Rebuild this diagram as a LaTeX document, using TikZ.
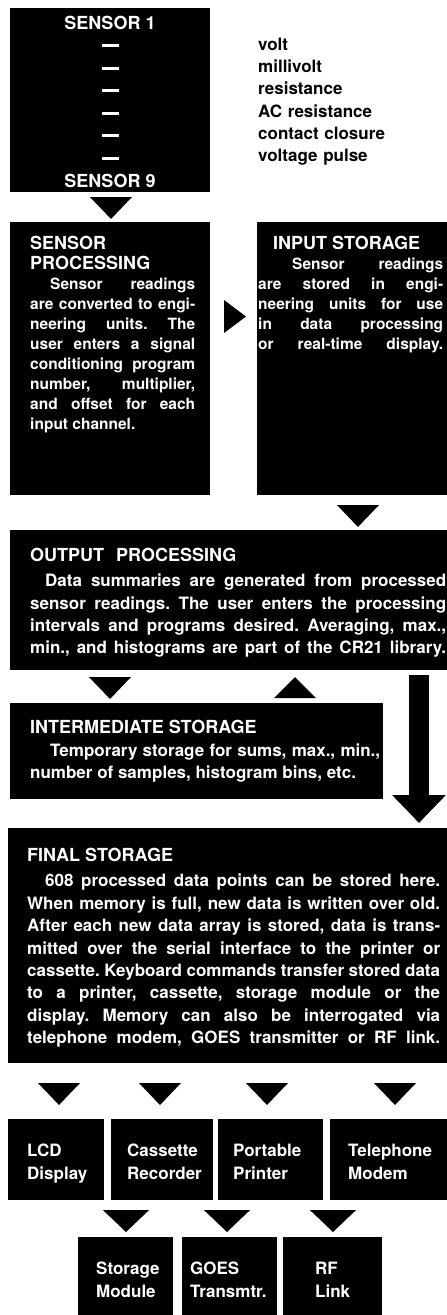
\documentclass[tikz,border=0pt]{standalone}
\usepackage{fontspec}
\setmainfont{TeX Gyre Heros}
\usetikzlibrary{arrows.meta}
\frenchspacing

\tikzset{
    blk/.style={fill=black, inner sep=0pt, anchor=north west},
    head/.style={text=white, inner sep=0pt, anchor=base west, font=\bfseries\fontsize{18}{20}\selectfont},
    body/.style={text=white, inner sep=0pt, anchor=north west, align=justify, font=\bfseries\fontsize{17}{22.3}\selectfont},
    bodys/.style={body, font=\bfseries\fontsize{15.5}{20}\selectfont},
    sline/.style={fill=white, inner sep=0pt, minimum width=17pt, minimum height=2.5pt},
    kinds/.style={inner sep=0pt, anchor=north west, align=left, font=\bfseries\fontsize{17}{22.2}\selectfont},
    lbl/.style={text=white, inner sep=0pt, anchor=north west, align=left, font=\bfseries\fontsize{17}{23}\selectfont},
    bigarr/.style={line width=20pt, -{Triangle[length=28pt, width=52pt]}},
    dtri/.pic={\fill (-21,0) -- (21,0) -- (0,22) -- cycle;},
    utri/.pic={\fill (-21,0) -- (21,0) -- (0,-21) -- cycle;},
    rtri/.pic={\fill (0,-16.5) -- (0,16.5) -- (22,0) -- cycle;}
}

\begin{document}
\begin{tikzpicture}[x=1pt, y=-1pt]
    \useasboundingbox (0,0) rectangle (447,1315);
    \fill[white] (0,0) rectangle (447,1315);

    % sensors
    \node[blk, minimum width=200pt, minimum height=184pt] (sensors) at (10,8) {};
    \node[head, anchor=base] (s1) at (110,29.5) {SENSOR 1};
    \foreach \i/\y in {1/45.3, 2/68.3, 3/90.3, 4/113.3, 5/135.7, 6/158.3}
        \node[sline] (d\i) at (110.8,\y) {};
    \node[head, anchor=base] (s9) at (110,187.5) {SENSOR 9};
    \node[kinds, text width=170pt] (types) at (258,38) {volt\\millivolt\\resistance\\AC resistance\\contact closure\\voltage pulse};
    \pic at (111,197) {dtri};

    % sensor processing and input storage
    \node[blk, minimum width=200pt, minimum height=273pt] (sensproc) at (10,222) {};
    \node[head] (sph1) at (30,249.5) {SENSOR};
    \node[head] (sph2) at (30,269.5) {PROCESSING};
    \node[bodys, text width=165pt] (spb) at (30,277.4) {\noindent\kern20pt Sensor readings\linebreak are converted to engi-\linebreak neering units. The\linebreak user enters a signal\linebreak conditioning program\linebreak number, multiplier,\linebreak and offset for each\linebreak input channel.};
    \pic at (224,316.5) {rtri};
    \node[blk, minimum width=195pt, minimum height=273pt] (instore) at (257,222) {};
    \node[head] (ish) at (273,249.5) {INPUT STORAGE};
    \node[bodys, text width=185pt] (isb) at (258,257.4) {\noindent\kern34pt Sensor readings\linebreak are stored in engi-\linebreak neering units for use\linebreak in data processing\linebreak or real-time display.\linebreak};
    \pic at (358,505) {dtri};

    % output processing
    \node[blk, minimum width=445pt, minimum height=140pt] (outproc) at (10,530) {};
    \node[head] (oph) at (30,561.5) {OUTPUT\hspace{7pt} PROCESSING};
    \node[body, text width=416pt] (opb) at (30,574) {\noindent\kern15pt Data summaries are generated from processed\linebreak sensor readings. The user enters the processing\linebreak intervals and programs desired. Averaging, max.,\linebreak min., and histograms are part of the CR21 library.\linebreak};
    \pic at (110,677) {dtri};
    \pic at (295,698) {utri};

    % intermediate storage
    \node[blk, minimum width=373pt, minimum height=96pt] (interm) at (10,703) {};
    \node[head] (imh) at (30,733.5) {INTERMEDIATE STORAGE};
    \node[body, text width=350pt, font=\bfseries\fontsize{17}{22}\selectfont] (imb) at (30,744) {\noindent\kern20pt Temporary storage for sums, max., min.,\linebreak number of samples, histogram bins, etc.};
    \coordinate (bartop) at (419,675);
    \coordinate (barend) at (419,823);
    \draw[bigarr] (bartop) -- (barend);

    % final storage
    \node[blk, minimum width=447pt, minimum height=235pt] (final) at (8,828) {};
    \node[head] (fsh) at (27,861.5) {FINAL STORAGE};
    \node[body, text width=413pt, font=\bfseries\fontsize{17}{22.4}\selectfont] (fsb) at (27,874) {\noindent\kern18pt 608 processed data points can be stored here.\linebreak When memory is full, new data is written over old.\linebreak After each new data array is stored, data is trans-\linebreak mitted over the serial interface to the printer or\linebreak cassette. Keyboard commands transfer stored data\linebreak to a printer, cassette, storage module or the\linebreak display. Memory can also be interrogated via\linebreak telephone modem, GOES transmitter or RF link.\linebreak};

    % outputs
    \pic at (59,1083) {dtri};
    \pic at (160,1083) {dtri};
    \pic at (267,1083) {dtri};
    \pic at (395,1083) {dtri};
    \node[blk, minimum width=96pt, minimum height=81pt] (lcd) at (8,1119) {};
    \node[blk, minimum width=102pt, minimum height=81pt] (cass) at (111,1119) {};
    \node[blk, minimum width=105pt, minimum height=81pt] (prn) at (218,1119) {};
    \node[blk, minimum width=125pt, minimum height=81pt] (tel) at (330,1119) {};
    \node[lbl] (lcdt) at (27,1144) {LCD\\Display};
    \node[lbl] (casst) at (127,1144) {Cassette\\Recorder};
    \node[lbl] (prnt) at (233,1144) {Portable\\Printer};
    \node[lbl] (telt) at (348,1144) {Telephone\\Modem};

    \pic[xscale=1.1] at (126,1210) {dtri};
    \pic[xscale=1.1] at (227,1210) {dtri};
    \pic[xscale=1.1] at (333,1210) {dtri};
    \node[blk, minimum width=95pt, minimum height=85pt] (stmod) at (78,1237) {};
    \node[blk, minimum width=95pt, minimum height=85pt] (goes) at (182,1237) {};
    \node[blk, minimum width=99pt, minimum height=85pt] (rf) at (283,1237) {};
    \node[lbl] (stmodt) at (96,1262) {Storage\\Module};
    \node[lbl] (goest) at (190,1262) {GOES\\Transmtr.};
    \node[lbl] (rft) at (315,1262) {RF\\Link};
\end{tikzpicture}
\end{document}
